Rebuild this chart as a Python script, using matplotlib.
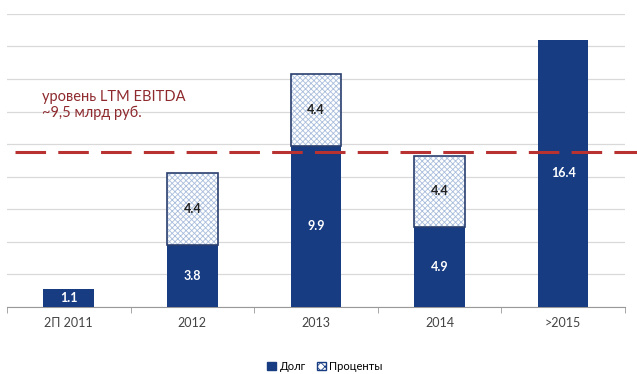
import numpy as np
import matplotlib.pyplot as plt
from matplotlib.patches import Patch

# debt repayment schedule, bln RUB
periods = ["2П 2011", "2012", "2013", "2014", ">2015"]
debt = [1.1, 3.8, 9.9, 4.9, 16.4]
interest = [0.0, 4.4, 4.4, 4.4, 0.0]
ebitda = 9.5

navy = "#173c82"
hatch_blue = "#a9bddc"
red = "#b83232"

plt.rcParams['font.family'] = ['Lato', 'DejaVu Sans']
plt.rcParams['hatch.linewidth'] = 0.6

fig = plt.figure(figsize=(6.37, 3.74), dpi=100)
ax = fig.add_axes([0.011, 0.179, 0.970, 0.784])

x = np.arange(len(periods))
w = 0.41

ax.bar(x, debt, w, color=navy, zorder=3)
# interest part: hatch first, then the dark outline on top
has_int = np.array(interest) > 0
xi = x[has_int]
bi = np.array(debt)[has_int]
hi = np.array(interest)[has_int]
ax.bar(xi, hi, w, bottom=bi, facecolor="white", edgecolor=hatch_blue,
       hatch="xxxxxx", linewidth=0, zorder=3)
ax.bar(xi, hi, w, bottom=bi, facecolor="none", edgecolor="#2a3f6e",
       linewidth=1.2, zorder=4)

for xx, d in zip(x, debt):
    ax.text(xx, d / 2, f"{d:.1f}", ha="center", va="center", color="white",
            fontsize=9, fontweight="bold", zorder=5)
for xx, b, h in zip(xi, bi, hi):
    ax.text(xx, b + h / 2, f"{h:.1f}", ha="center", va="center",
            color="#222222", fontsize=9, fontweight="bold", zorder=5)

# EBITDA level
ax.axhline(ebitda, xmin=0.013, xmax=1.02, color=red, lw=2.2,
           dashes=(10, 4), zorder=6, clip_on=False)
ax.text(-0.22, 12.4, "уровень LTM EBITDA\n~9,5 млрд руб.", color="#8e2a2e",
        fontsize=10.5, va="center", ha="left", linespacing=1.15)

ax.set_xlim(-0.5, len(periods) - 0.5)
ax.set_ylim(0, 18)
ax.set_yticks(np.arange(0, 19, 2))
ax.yaxis.grid(True, color="#d9d9d9", lw=0.9)
ax.set_axisbelow(True)
ax.tick_params(axis="y", left=False, labelleft=False)

ax.set_xticks(x)
ax.set_xticklabels(periods, fontsize=9, color="#444444")
ax.set_xticks(np.arange(-0.5, len(periods), 1), minor=True)
ax.tick_params(axis="x", which="major", length=0, pad=7)
ax.tick_params(axis="x", which="minor", length=4, color="#999999")

for s in ["top", "right", "left"]:
    ax.spines[s].set_visible(False)
ax.spines["bottom"].set_color("#999999")

handles = [Patch(facecolor=navy, edgecolor=navy, label="Долг"),
           Patch(facecolor="white", edgecolor=navy, hatch="xxxx",
                 label="Проценты")]
fig.legend(handles=handles, loc="center", bbox_to_anchor=(0.51, 0.02),
           ncol=2, frameon=False, fontsize=8, handlelength=0.8,
           handleheight=0.8, handletextpad=0.3, columnspacing=1.0)

fig.savefig("out.png", dpi=100)
